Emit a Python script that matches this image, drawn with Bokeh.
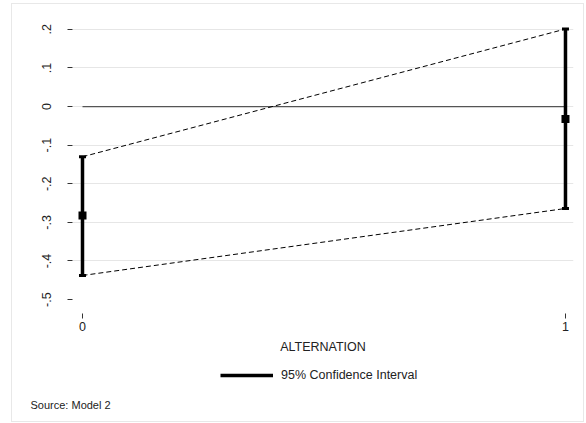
from bokeh.plotting import figure
from bokeh.layouts import column
from bokeh.models import (Range1d, FixedTicker, CustomJSTickFormatter, Legend,
                          LegendItem, Title, ColumnDataSource)
from bokeh.embed import file_html
from bokeh.resources import INLINE

# Marginal effect of ALTERNATION with 95% confidence bounds
alternation = [0, 1]
estimate = [-0.282, -0.032]
ci_lower = [-0.4375, -0.264]
ci_upper = [-0.130, 0.201]
y_ticks = [-0.5, -0.4, -0.3, -0.2, -0.1, 0.0, 0.1, 0.2]

FONT = "Liberation Sans"
TXT = "#222222"
W = 571

src = ColumnDataSource(dict(x=alternation, est=estimate, lo=ci_lower, hi=ci_upper))

p = figure(width=W, height=352, output_backend="svg", toolbar_location=None,
           x_range=Range1d(-0.0207, 1.0166), y_range=Range1d(-0.536, 0.223),
           min_border_left=60, min_border_right=10, min_border_top=16,
           min_border_bottom=43)
p.outline_line_color = None
p.background_fill_color = "white"
p.border_fill_color = "white"

# grid
p.xgrid.visible = False
p.ygrid.ticker = FixedTicker(ticks=[t for t in y_ticks if t > -0.45])
p.ygrid.grid_line_color = "#e6e6e6"
p.ygrid.grid_line_width = 1

# axes
fmt = CustomJSTickFormatter(code="""
    const v = Math.round(tick * 10) / 10;
    if (v === 0) return "0";
    return v.toString().replace("0.", ".");
""")
p.yaxis.ticker = FixedTicker(ticks=y_ticks)
p.yaxis.formatter = fmt
p.yaxis.major_label_orientation = "vertical"
p.xaxis.ticker = FixedTicker(ticks=alternation)
p.xaxis.axis_label = "ALTERNATION"
for ax in (p.xaxis, p.yaxis):
    ax.axis_line_color = None
    ax.minor_tick_line_color = None
    ax.major_tick_in = 0
    ax.major_tick_out = 5
    ax.major_tick_line_color = "#333333"
    ax.major_label_text_font = FONT
    ax.major_label_text_font_size = "12.5px"
    ax.major_label_text_color = TXT
    ax.axis_label_text_font = FONT
    ax.axis_label_text_font_size = "12.5px"
    ax.axis_label_text_font_style = "normal"
    ax.axis_label_text_color = TXT
p.yaxis.major_label_standoff = 16
p.xaxis.major_label_standoff = 3
p.xaxis.axis_label_standoff = 6

# zero reference line across the two categories
p.line(x=alternation, y=[0, 0], line_color="#555555", line_width=1.2)

# dashed envelopes joining the bounds
p.line(x="x", y="hi", source=src, line_color="black", line_width=1, line_dash="5 3")
p.line(x="x", y="lo", source=src, line_color="black", line_width=1, line_dash="5 3")

# confidence interval bars with end caps
p.segment(x0="x", y0="lo", x1="x", y1="hi", source=src,
          line_color="black", line_width=3.5)
p.rect(x="x", y="lo", width=7, height=3, width_units="screen", height_units="screen",
       source=src, fill_color="black", line_color=None)
p.rect(x="x", y="hi", width=7, height=3, width_units="screen", height_units="screen",
       source=src, fill_color="black", line_color=None)

# point estimates
p.scatter(x="x", y="est", source=src, marker="square", size=8,
          fill_color="black", line_color=None)

# footer strip: legend key and source note (ranges keep its glyphs off-view,
# only the legend key is shown)
foot = figure(width=W, height=65, output_backend="svg", toolbar_location=None,
              x_range=Range1d(5, 6), y_range=Range1d(5, 6),
              x_axis_type=None, y_axis_type=None,
              min_border_left=0, min_border_right=0,
              min_border_top=0, min_border_bottom=30)
foot.outline_line_color = None
foot.border_fill_color = "white"
foot.background_fill_color = "white"
key = foot.segment(x0="x", y0="lo", x1="x", y1="hi", source=src,
                   line_color="black", line_width=3.5)

legend = Legend(items=[LegendItem(label="95% Confidence Interval", renderers=[key])],
                location=(148, 9), orientation="horizontal",
                glyph_width=53, glyph_height=14, label_standoff=8,
                label_text_font=FONT, label_text_font_size="12.5px",
                label_text_color=TXT, border_line_color=None,
                background_fill_alpha=0, padding=0, margin=0)
foot.add_layout(legend)

foot.add_layout(Title(text="Source: Model 2", align="left", offset=-42,
                      text_font=FONT, text_font_size="11px",
                      text_font_style="normal", text_color=TXT), "below")

page = column(p, foot, spacing=0, margin=(4, 0, 0, 12),
              styles={"outline": "1px solid #e8e8e8"})

open("out.html", "w").write(file_html(page, INLINE))
